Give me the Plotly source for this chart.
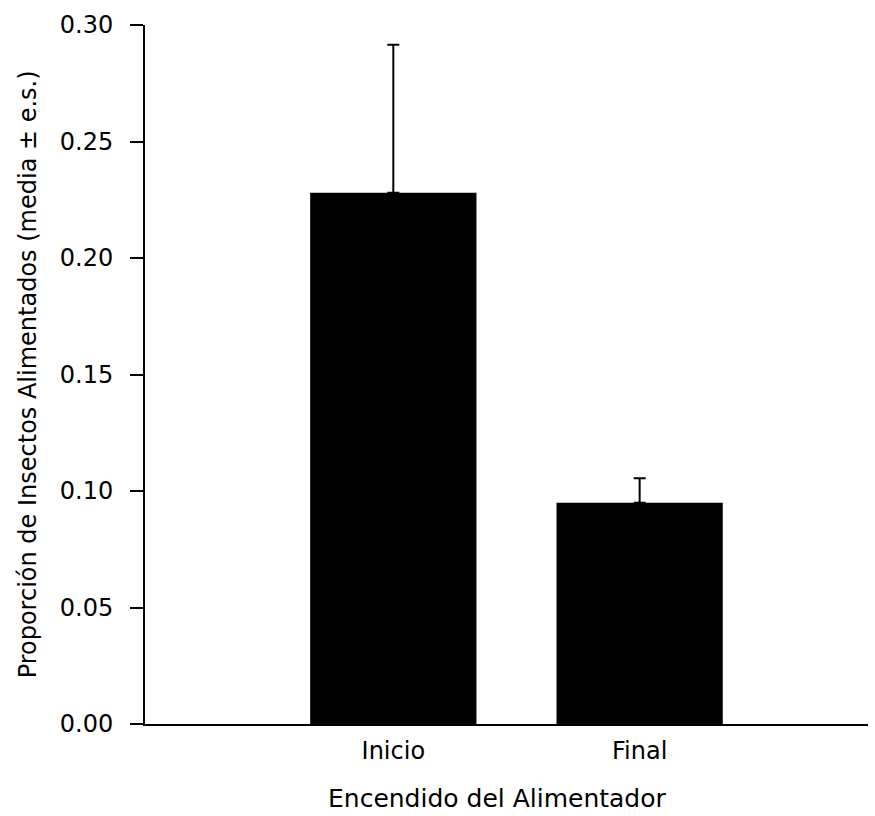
import plotly.graph_objects as go

# Feeding proportion by feeder switch-on time
categories = ["Inicio", "Final"]
means = [0.228, 0.095]
std_err = [0.0635, 0.0105]
y_ticks = [0.00, 0.05, 0.10, 0.15, 0.20, 0.25, 0.30]
y_tick_text = [f"{v:.2f}" for v in y_ticks]
x_title = "Encendido del Alimentador"
y_title = "Proporción de Insectos Alimentados (media ± e.s.)"

FONT = "DejaVu Sans"

fig = go.Figure(
    go.Bar(
        x=categories,
        y=means,
        width=0.675,
        marker=dict(color="black", line=dict(width=0)),
        error_y=dict(
            type="data",
            symmetric=False,
            array=std_err,
            arrayminus=[0, 0],
            color="black",
            thickness=2,
            width=6,
        ),
    )
)

fig.update_layout(
    width=875,
    height=816,
    paper_bgcolor="white",
    plot_bgcolor="white",
    margin=dict(l=145, r=7, t=25, b=92),
    showlegend=False,
    font=dict(family=FONT, color="black", size=24),
)

fig.update_xaxes(
    type="category",
    range=[-1.008, 1.927],
    showline=True,
    linecolor="black",
    linewidth=2,
    ticks="",
    showgrid=False,
    zeroline=False,
    tickfont=dict(size=24),
    ticklabelstandoff=4,
    automargin=False,
)

fig.update_yaxes(
    range=[0, 0.30],
    tickvals=y_ticks,
    ticktext=y_tick_text,
    showline=True,
    linecolor="black",
    linewidth=2,
    ticks="outside",
    ticklen=13,
    tickwidth=2,
    tickcolor="black",
    showgrid=False,
    zeroline=False,
    tickfont=dict(size=24),
    ticklabelstandoff=12,
    automargin=False,
)

# Axis titles placed as paper-anchored annotations
fig.add_annotation(
    text=x_title, xref="paper", yref="paper", x=0.488, y=-0.107,
    xanchor="center", yanchor="middle", showarrow=False, font=dict(size=25),
)
fig.add_annotation(
    text=y_title, xref="paper", yref="paper", x=-0.162, y=0.5,
    xanchor="center", yanchor="middle", textangle=-90, showarrow=False,
    font=dict(size=24),
)

fig.write_html("out.html")
